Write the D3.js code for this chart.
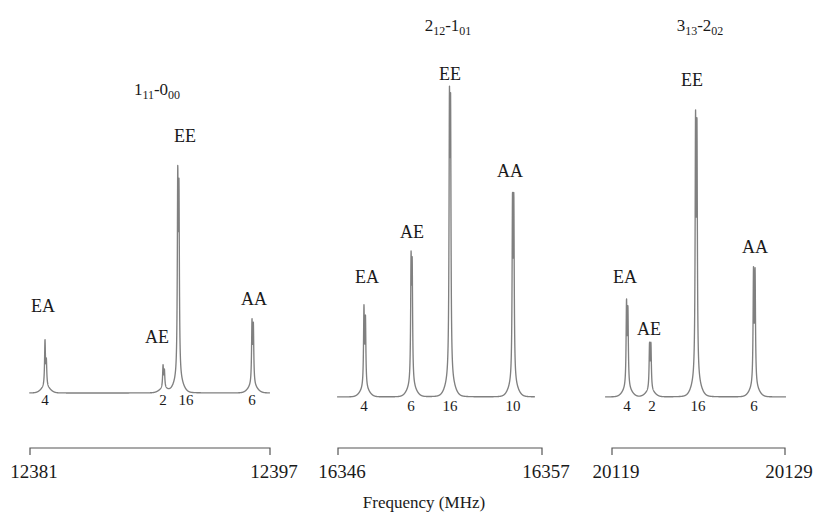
<!DOCTYPE html>
<html>
<head>
<meta charset="utf-8">
<script src="https://cdn.jsdelivr.net/npm/d3@7"></script>
<style>
  body { margin: 0; background: #fff; }
  svg { display: block; }
  .spec { fill: none; stroke: #808080; stroke-width: 1.35; stroke-linejoin: round; }
  .bracket { fill: none; stroke: #555; stroke-width: 1.2; }
</style>
</head>
<body>
<svg id="chart" width="813" height="515"></svg>
<script>
// transitions, one entry per panel
const transitions = [
    [{ main: "1", sub: "11" }, { main: "-0", sub: "00" }],
    [{ main: "2", sub: "12" }, { main: "-1", sub: "01" }],
    [{ main: "3", sub: "13" }, { main: "-2", sub: "02" }]
];

// axis end ticks (MHz)
const axisTicks = [
    [12381, 12397],
    [16346, 16357],
    [20119, 20129]
];

// frequency span of the drawn trace (MHz)
const traceSpan = [
    [12380.95, 12397.0],
    [16345.95, 16356.62],
    [20118.60, 20129.06]
];

const species = ["EA", "AE", "EE", "AA"];

// each line is a Doppler doublet: [freq MHz, intensity]
const peaks1 = [
    [[12382.00, 45], [12382.09, 24]],
    [[12389.87, 22], [12389.96, 17]],
    [[12390.85, 190], [12390.93, 175]],
    [[12395.80, 61], [12395.89, 57]]
];
const peaks2 = [
    [[16347.40, 78], [16347.48, 67]],
    [[16349.94, 118], [16350.00, 111]],
    [[16352.01, 255], [16352.07, 248]],
    [[16355.41, 172], [16355.48, 171]]
];
const peaks3 = [
    [[20119.84, 82], [20119.92, 74]],
    [[20121.17, 44], [20121.25, 44]],
    [[20123.83, 246], [20123.91, 239]],
    [[20127.18, 112], [20127.27, 110]]
];
const allPeaks = [peaks1, peaks2, peaks3];

// relative statistical weights under each line
const weights = [
    ["4", "2", "16", "6"],
    ["4", "6", "16", "10"],
    ["4", "2", "16", "6"]
];

// layout per panel (pixels)
const layout = [
    { x0: 30, x1: 270, base: 393, numY: 405, titleX: 157, titleY: 95,
      lab: [[43, 312], [157, 343], [185, 142], [254, 305]],
      num: [45, 163, 186, 252] },
    { x0: 338, x1: 542, base: 397, numY: 411, titleX: 448, titleY: 31,
      lab: [[367, 283], [412, 238], [450, 80], [510, 177]],
      num: [364, 411, 450, 513] },
    { x0: 612, x1: 785, base: 397, numY: 411, titleX: 700, titleY: 31,
      lab: [[625, 283], [649, 335], [692, 86], [755, 253]],
      num: [627, 652, 698, 754] }
];

const FONT = "'Liberation Serif', 'Times New Roman', Times, serif";
const svg = d3.select("#chart")
    .attr("font-family", FONT)
    .style("font-family", FONT);
const GAMMA = 0.5;   // lorentz half width, px
const PED_SIGMA = 4.3;

allPeaks.forEach((peaks, i) => {
    const L = layout[i];
    const x = d3.scaleLinear().domain(axisTicks[i]).range([L.x0, L.x1]);
    const y = d3.scaleLinear().domain([0, 320]).range([L.base, L.base - 320]);
    const g = svg.append("g");

    // sample the trace every 0.1 px
    const pxStart = x(traceSpan[i][0]);
    const pxEnd = x(traceSpan[i][1]);
    const pts = [];
    for (let px = pxStart; px <= pxEnd; px += 0.1) {
        let v = 0;
        peaks.forEach(doublet => {
            let hMax = 0, cx = 0;
            doublet.forEach(([f, h]) => {
                const d = px - x(f);
                v += h * GAMMA * GAMMA / (d * d + GAMMA * GAMMA);
                hMax = Math.max(hMax, h);
                cx += x(f) / doublet.length;
            });
            const dp = px - cx;
            v += 0.85 * Math.sqrt(hMax) * Math.exp(-dp * dp / (2 * PED_SIGMA * PED_SIGMA));
        });
        pts.push([px, v]);
    }

    g.append("path")
        .attr("class", "spec")
        .attr("d", d3.line().x(d => d[0]).y(d => y(d[1]))(pts));

    // species labels
    g.selectAll(".lab")
        .data(species)
        .enter().append("text")
        .attr("x", (d, k) => L.lab[k][0])
        .attr("y", (d, k) => L.lab[k][1])
        .attr("text-anchor", "middle")
        .attr("fill", "#1a1a1a")
        .style("font-size", "18px")
        .text(d => d);

    // weights
    g.selectAll(".num")
        .data(weights[i])
        .enter().append("text")
        .attr("x", (d, k) => L.num[k])
        .attr("y", L.numY)
        .attr("text-anchor", "middle")
        .attr("fill", "#1a1a1a")
        .style("font-size", "15px")
        .text(d => d);

    // title with subscripts
    const t = g.append("text")
        .attr("x", L.titleX)
        .attr("y", L.titleY)
        .attr("text-anchor", "middle")
        .attr("fill", "#1a1a1a")
        .style("font-size", "17px");
    transitions[i].forEach((part, k) => {
        t.append("tspan").attr("dy", k === 0 ? 0 : -4).text(part.main);
        t.append("tspan").attr("dy", 4).style("font-size", "12px").text(part.sub);
    });

    // bracket axis
    const ay = 448;
    g.append("path")
        .attr("class", "bracket")
        .attr("d", `M${x(axisTicks[i][0])},${ay + 7}V${ay}H${x(axisTicks[i][1])}V${ay + 7}`);

    g.selectAll(".tick")
        .data(axisTicks[i])
        .enter().append("text")
        .attr("x", d => x(d) + 4)
        .attr("y", 478)
        .attr("text-anchor", "middle")
        .attr("fill", "#1a1a1a")
        .style("font-size", "19px")
        .text(d => d);
});

svg.append("text")
    .attr("x", 424)
    .attr("y", 508)
    .attr("text-anchor", "middle")
    .attr("fill", "#1a1a1a")
    .style("font-size", "17px")
    .text("Frequency (MHz)");
</script>
</body>
</html>
